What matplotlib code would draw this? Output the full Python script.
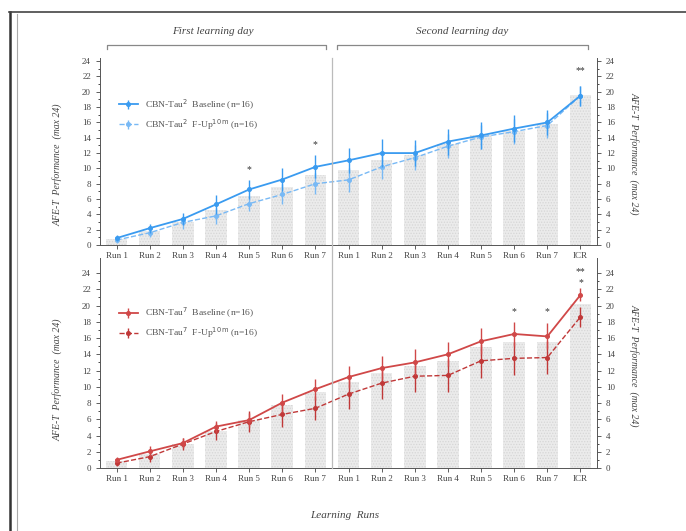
import numpy as np
import matplotlib
matplotlib.use("Agg")
import matplotlib.pyplot as plt
from matplotlib.lines import Line2D

plt.rcParams['font.family'] = ['Liberation Serif', 'DejaVu Serif']
plt.rcParams['hatch.linewidth'] = 0.6

# categories
runs = ["Run 1", "Run 2", "Run 3", "Run 4", "Run 5", "Run 6", "Run 7",
        "Run 1", "Run 2", "Run 3", "Run 4", "Run 5", "Run 6", "Run 7", "ICR"]

# top panel (Tau2)
top_bars = [0.8, 1.8, 3.0, 4.6, 6.4, 7.6, 9.1, 9.8, 11.1, 11.7, 13.2, 14.3, 14.9, 15.8, 19.6]
top_base = [0.9, 2.2, 3.4, 5.3, 7.25, 8.55, 10.2, 11.05, 12.0, 12.0, 13.5, 14.3, 15.2, 16.0, 19.5]
top_base_err = [0.4, 0.6, 0.8, 1.2, 1.3, 1.5, 1.5, 1.6, 1.8, 1.7, 1.7, 1.8, 1.8, 1.6, 1.3]
top_fup = [0.65, 1.6, 2.95, 3.8, 5.4, 6.6, 8.0, 8.5, 10.2, 11.4, 12.9, 14.1, 14.8, 15.6, 19.5]
top_fup_err = [0.4, 0.6, 0.8, 1.0, 1.0, 1.3, 1.4, 1.6, 1.6, 1.6, 1.6, 1.6, 1.6, 1.6, 1.3]
# (run index, value, mark)
top_stars = [(4, 9.8, "*"), (6, 13.1, "*"), (14, 22.8, "**")]

# bottom panel (Tau7)
bot_bars = [0.9, 1.75, 3.0, 4.5, 5.9, 7.8, 9.3, 10.6, 11.75, 12.6, 13.2, 14.9, 15.5, 15.5, 20.2]
bot_base = [1.0, 2.05, 3.07, 5.1, 5.9, 8.05, 9.7, 11.2, 12.3, 13.0, 14.0, 15.6, 16.5, 16.2, 21.3]
bot_base_err = [0.3, 0.6, 0.6, 0.7, 0.9, 1.1, 1.3, 1.4, 1.5, 1.6, 1.5, 1.6, 1.5, 1.6, 0.8]
bot_fup = [0.6, 1.4, 2.95, 4.5, 5.7, 6.6, 7.35, 9.1, 10.45, 11.3, 11.4, 13.2, 13.5, 13.6, 18.6]
bot_fup_err = [0.3, 0.6, 0.7, 1.0, 1.3, 1.5, 1.5, 1.8, 2.0, 2.0, 2.0, 2.1, 2.0, 2.0, 1.2]
bot_stars = [(12, 19.2, "*"), (13, 19.2, "*"), (14, 22.8, "*"), (14, 24.2, "**")]

x = np.arange(len(runs))

fig = plt.figure(figsize=(6.86, 5.31), dpi=100)
ax_top = fig.add_axes([0.1458, 0.5386, 0.7245, 0.352])
ax_bot = fig.add_axes([0.1458, 0.1186, 0.7245, 0.3955])

YLABEL = "AFE-T  Performance  (max 24)"


def draw_panel(ax, bars, base, base_err, fup, fup_err, c_base, c_fup, sup, ylim_top,
               stars, leg_y, lab_l, lab_r):
    ax.bar(x, bars, width=0.65, color="#ebebeb", edgecolor="#d6d6d6", linewidth=0,
           hatch="......", zorder=1)
    ax.errorbar(x, fup, yerr=fup_err, color=c_fup, ls="--", lw=1.0, marker="o", ms=2.6,
                elinewidth=1.0, capsize=0, zorder=3,
                label=r"CBN-Tau$^{%s}$  F-Up$^{\mathrm{10\,m}}$ (n=16)" % sup)
    ax.errorbar(x, base, yerr=base_err, color=c_base, ls="-", lw=1.3, marker="o", ms=2.6,
                elinewidth=1.0, capsize=0, zorder=4,
                label=r"CBN-Tau$^{%s}$  Baseline (n=16)" % sup)
    for i, yv, s in stars:
        ax.text(x[i], yv, s, ha="center", va="center", fontsize=7, color="#333333")
    ax.set_xlim(-0.5, 14.5)
    ax.set_ylim(0, ylim_top)
    ax.set_yticks(np.arange(0, 25, 2))
    ax.set_yticks(np.arange(0, 25, 1), minor=True)
    ax.set_xticks(x)
    ax.set_xticklabels(runs)
    ax.tick_params(axis="both", labelsize=6.5, colors="#444444", length=3, width=0.6,
                   direction="out")
    ax.tick_params(axis="y", which="both", right=True, labelright=True)
    ax.tick_params(axis="y", which="minor", length=1.5, width=0.5)
    ax.tick_params(axis="x", pad=2)
    ax.spines["top"].set_visible(False)
    for sp in ["left", "right", "bottom"]:
        ax.spines[sp].set_color("#555555")
        ax.spines[sp].set_linewidth(0.7)
    ax.text(-0.085, lab_l, YLABEL, transform=ax.transAxes, rotation=90,
            ha="center", va="center", fontstyle="italic", fontsize=7, color="#444444")
    ax.text(1.075, lab_r, YLABEL, transform=ax.transAxes, rotation=-90,
            ha="center", va="center", fontstyle="italic", fontsize=7, color="#444444")
    h, l = ax.get_legend_handles_labels()
    ax.legend(h[::-1], l[::-1], loc="upper left", bbox_to_anchor=(0.03, leg_y),
              frameon=False, fontsize=6.8, handlelength=2.0, labelcolor="#555555",
              borderaxespad=0, labelspacing=0.6)


draw_panel(ax_top, top_bars, top_base, top_base_err, top_fup, top_fup_err,
           "#3a9bf0", "#78b9f5", "2", 24.4, top_stars, 0.81, 0.43, 0.49)
draw_panel(ax_bot, bot_bars, bot_base, bot_base_err, bot_fup, bot_fup_err,
           "#d04848", "#c03838", "7", 25.85, bot_stars, 0.79, 0.42, 0.49)

W, H = 686.0, 531.0


def fx(px):
    return px / W


def fy(py):
    return 1 - py / H


# day separator through both panels
fig.add_artist(Line2D([fx(332), fx(332)], [fy(58), fy(468)], color="#bbbbbb", lw=0.9))

# day brackets
for x0, x1, xt, txt in [(107, 326, 213, "First learning day"),
                        (337, 588, 462, "Second learning day")]:
    fig.add_artist(Line2D([fx(x0), fx(x0), fx(x1), fx(x1)],
                          [fy(49), fy(45), fy(45), fy(49)], color="#888888", lw=0.9))
    fig.text(fx(xt), fy(32), txt, ha="center", va="center", fontstyle="italic",
             fontsize=8, color="#444444")

fig.text(fx(345), fy(516), "Learning  Runs", ha="center", va="center",
         fontstyle="italic", fontsize=8, color="#444444")

# page frame
fig.add_artist(Line2D([fx(10), fx(10)], [fy(12), 0], color="#333333", lw=1.8))
fig.add_artist(Line2D([fx(17), fx(17)], [fy(14), 0], color="#aaaaaa", lw=0.8))
fig.add_artist(Line2D([fx(9), 1], [fy(12), fy(12)], color="#444444", lw=1.2))

fig.savefig("out.png", dpi=100)
